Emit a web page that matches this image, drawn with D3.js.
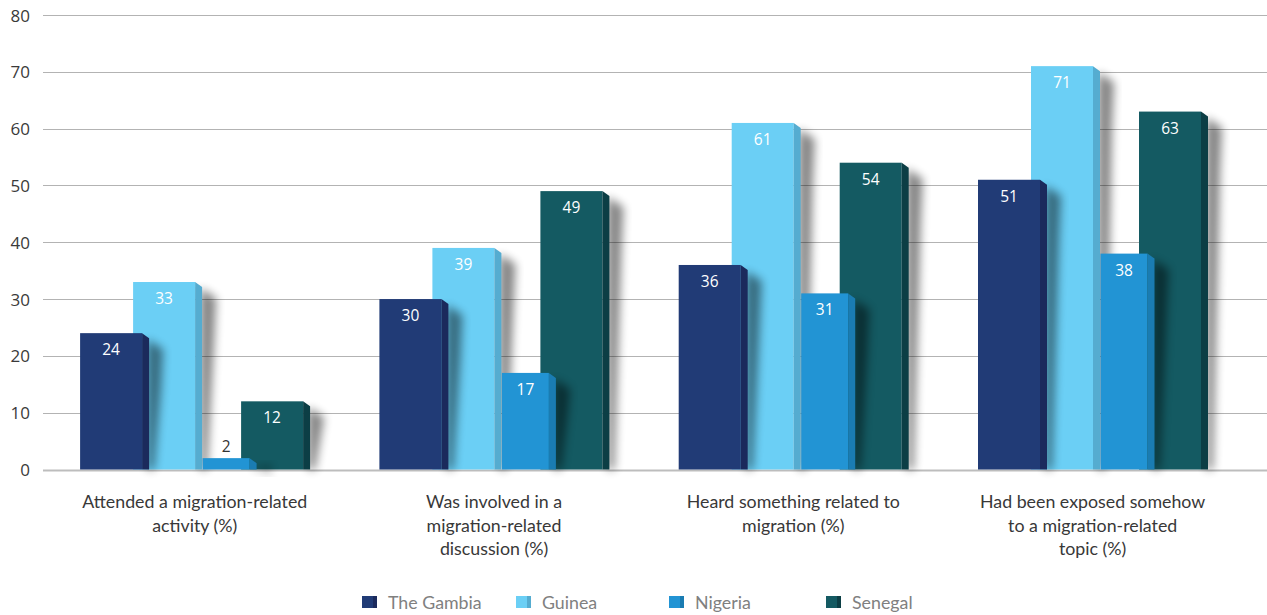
<!DOCTYPE html>
<html><head><meta charset="utf-8">
<script src="https://cdn.jsdelivr.net/npm/d3@7"></script>
<style>body{margin:0;background:#fff}</style>
</head><body><svg id="c" width="1267" height="615"></svg>
<script>
const categories = [
  "Attended a migration-related\nactivity (%)",
  "Was involved in a\nmigration-related\ndiscussion (%)",
  "Heard something related to\nmigration (%)",
  "Had been exposed somehow\nto a migration-related\ntopic (%)"
];
const series = ["The Gambia", "Guinea", "Nigeria", "Senegal"];
const gambia  = [24, 30, 36, 51];
const guinea  = [33, 39, 61, 71];
const nigeria = [2, 17, 31, 38];
const senegal = [12, 49, 54, 63];
const yTicks = [0, 10, 20, 30, 40, 50, 60, 70, 80];

const values = [gambia, guinea, nigeria, senegal];
const front = ["#213b76", "#6bcff5", "#2294d4", "#145a62"];
const side  = ["#1b2a5c", "#55acd0", "#1a7cb2", "#0c3e45"];

const svg = d3.select("#c");
const defs = svg.append("defs");
const f = defs.append("filter").attr("id","blur").attr("x","-50%").attr("y","-20%").attr("width","200%").attr("height","140%");
f.append("feGaussianBlur").attr("stdDeviation", 5);

const y = d3.scaleLinear().domain([0, 80]).range([469.5, 15]);
const x0 = d3.scaleBand().domain(categories).range([45.1, 1242.3]);
const xOff = d3.scaleOrdinal().domain(series).range([35, 88, 157.5, 196]);
const wid = d3.scaleOrdinal().domain(series).range([62, 62, 47, 62]);
const color = d3.scaleOrdinal().domain(series).range(front);
const colorSide = d3.scaleOrdinal().domain(series).range(side);

// grid
svg.append("g").selectAll("line").data(yTicks).join("line")
  .attr("x1", 43).attr("x2", 1267)
  .attr("y1", d => Math.round(y(d)) + 0.5).attr("y2", d => Math.round(y(d)) + 0.5)
  .attr("stroke", d => d === 0 ? "#bdbdbd" : "#b3b3b3")
  .attr("stroke-width", d => d === 0 ? 2 : 1);

// y labels
svg.append("g").selectAll("text").data(yTicks).join("text")
  .attr("x", 30).attr("y", d => y(d) + 6.5)
  .attr("text-anchor", "end")
  .attr("font-family", "'Open Sans', sans-serif").attr("font-size", 17)
  .attr("fill", "#3a3a3a")
  .text(d => d);

// bars
const order = [1, 0, 3, 2];
const bars = [];
categories.forEach((c, ci) => {
  order.forEach(si => {
    bars.push({c, s: series[si], v: values[si][ci]});
  });
});
const g = svg.append("g");
bars.forEach(b => {
  const x = x0(b.c) + xOff(b.s);
  const w = wid(b.s);
  const top = y(b.v), bot = y(0);
  const xr = x + w + 7;
  const h = bot - top;
  // shadow
  g.append("polygon")
    .attr("points", [[xr - 2, top + 6], [xr + 14, top + 16], [xr + 12, top + Math.min(60, h * 0.4)], [xr + 5, bot], [xr - 2, bot]].map(p => p.join(",")).join(" "))
    .attr("fill", "#000").attr("opacity", 0.48).attr("filter", "url(#blur)");
  g.append("rect").attr("x", x).attr("y", top).attr("width", w).attr("height", h).attr("fill", color(b.s));
  g.append("polygon")
    .attr("points", [[x + w, top], [xr, top + 5], [xr, bot], [x + w, bot]].map(p => p.join(",")).join(" "))
    .attr("fill", colorSide(b.s));
  const inside = h > 25;
  g.append("text")
    .attr("x", x + w / 2).attr("y", inside ? top + 22 : top - 6)
    .attr("text-anchor", "middle")
    .attr("font-family", "'Open Sans', sans-serif").attr("font-size", 15.5)
    .attr("fill", inside ? "#ffffff" : "#333")
    .text(b.v);
});

// category labels
svg.append("g").selectAll("text").data(categories).join("text")
  .attr("x", d => x0(d) + x0.bandwidth() / 2)
  .attr("y", 508)
  .attr("text-anchor", "middle")
  .attr("font-family", "Lato, sans-serif").attr("font-size", 17.8)
  .attr("fill", "#383838")
  .each(function(d) {
    d.split("\n").forEach((line, i) => {
      d3.select(this).append("tspan").attr("x", x0(d) + x0.bandwidth() / 2).attr("dy", i === 0 ? 0 : 23.5).text(line);
    });
  });

// legend
const legX = d3.scaleOrdinal().domain(series).range([362, 516, 669, 826]);
const lg = svg.append("g");
series.forEach(s => {
  lg.append("rect").attr("x", legX(s)).attr("y", 596).attr("width", 11).attr("height", 12).attr("fill", color(s));
  lg.append("rect").attr("x", legX(s) + 11).attr("y", 596).attr("width", 4).attr("height", 12).attr("fill", colorSide(s));
  lg.append("text").attr("x", legX(s) + 26).attr("y", 609)
    .attr("font-family", "Lato, sans-serif").attr("font-size", 17.8)
    .attr("fill", "#808080").text(s);
});
</script>
</body></html>
